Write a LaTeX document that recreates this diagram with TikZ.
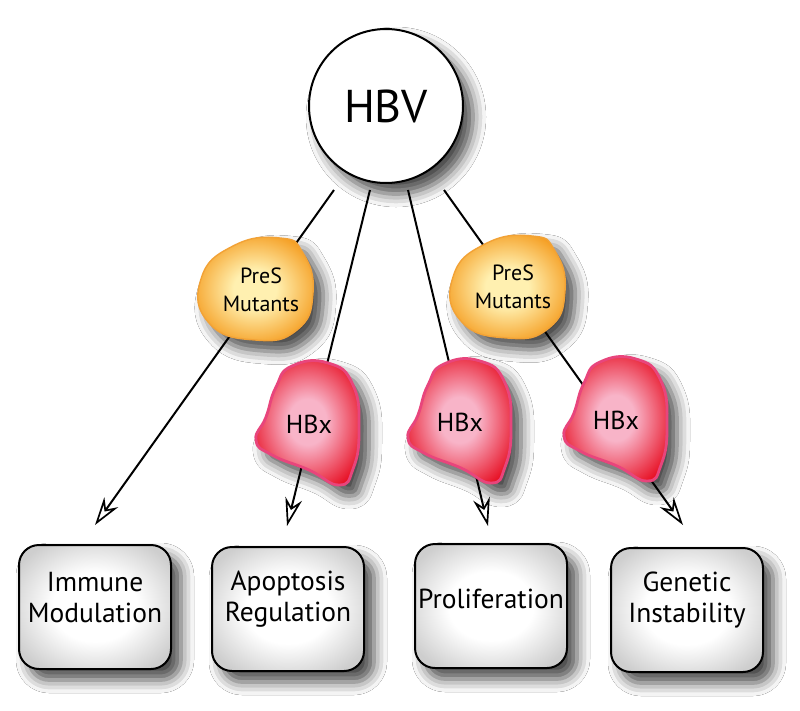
\documentclass[tikz,border=0pt]{standalone}
\usepackage{fontspec}
\setmainfont{PT Sans}
\usetikzlibrary{arrows.meta,shadows.blur}
\definecolor{presIn}{HTML}{FFF0B0}
\definecolor{presOut}{HTML}{F59E22}
\definecolor{presLine}{HTML}{F2A236}
\definecolor{hbxIn}{HTML}{F8B4C8}
\definecolor{hbxOut}{HTML}{E81428}
\definecolor{hbxLine}{HTML}{E8457C}
\pgfdeclareradialshading{boxshade}{\pgfpoint{0bp}{0bp}}{color(0bp)=(white); color(14bp)=(white); color(30bp)=(black!19); color(50bp)=(black!24)}
\pgfdeclareradialshading{presshade}{\pgfpoint{0bp}{0bp}}{color(0bp)=(presIn); color(9bp)=(presIn); color(28bp)=(presOut); color(50bp)=(presOut)}
\pgfdeclareradialshading{hbxshade}{\pgfpoint{0bp}{0bp}}{color(0bp)=(hbxIn); color(9bp)=(hbxIn); color(29bp)=(hbxOut); color(50bp)=(hbxOut)}
\begin{document}
\begin{tikzpicture}[x=1pt,y=-1pt,
  myshadow/.style={blur shadow={shadow xshift=10pt, shadow yshift=-11pt, shadow blur radius=13pt, shadow opacity=72}},
  conn/.style={line width=2pt, -{Stealth[open, length=28pt, width=17pt, inset=9pt, line width=1.7pt]}},
  boxstyle/.style={draw=black, line width=2pt, rounded corners=20pt, minimum width=152pt, minimum height=124pt, shading=boxshade, myshadow},
  boxtext/.style={font=\fontsize{27.5}{31}\selectfont, align=center},
  prestext/.style={font=\fontsize{22}{28}\selectfont, align=center},
  hbxtext/.style={font=\fontsize{26}{30}\selectfont},
  presstyle/.style={myshadow, draw=presLine, line width=1.4pt, shading=presshade},
  hbxstyle/.style={myshadow, draw=hbxLine, line width=2.8pt, shading=hbxshade}
]
\useasboundingbox[fill=white] (0,0) rectangle (800,710);

% HBV
\node[circle, draw, line width=2pt, fill=white, minimum size=154pt, myshadow, font=\fontsize{46}{50}\selectfont] (hbv) at (386,106) {HBV};

% connector end points
\coordinate (s1) at (334,190);
\coordinate (s2) at (370,190);
\coordinate (s3) at (408,190);
\coordinate (s4) at (444,190);
\coordinate (tip1) at (95,525);
\coordinate (tip2) at (287,526);
\coordinate (tip3) at (488,526);
\coordinate (tip4) at (683,525);

\draw[conn] (s1) -- (tip1);
\draw[conn] (s2) -- (tip2);
\draw[conn] (s3) -- (tip3);
\draw[conn] (s4) -- (tip4);

% PreS blobs
\path[presstyle, shift={(255,289)}] plot[smooth cycle, tension=0.85] coordinates {(25,-51) (-22,-43) (-54,-10) (-46,34) (0,51) (42,41) (58,4) (48,-36)};
\node[prestext] (pres1) at (261,290) {PreS\\Mutants};
\path[presstyle, shift={(507,287)}] plot[smooth cycle, tension=0.85] coordinates {(25,-51) (-22,-43) (-54,-10) (-46,34) (0,51) (42,41) (58,4) (48,-36)};
\node[prestext] (pres2) at (513,287) {PreS\\Mutants};

% HBx blobs
\path[hbxstyle, shift={(306,423)}] plot[smooth cycle, tension=0.85] coordinates {(-14,-57) (22,-60) (47,-38) (53,8) (47,46) (33,62) (3,47) (-34,32) (-50,17) (-40,-6) (-30,-36)};
\node[hbxtext] (hbx1) at (309,424) {HBx};
\path[hbxstyle, shift={(458,421)}] plot[smooth cycle, tension=0.85] coordinates {(-14,-57) (22,-60) (47,-38) (53,8) (47,46) (33,62) (3,47) (-34,32) (-50,17) (-40,-6) (-30,-36)};
\node[hbxtext] (hbx2) at (460,422) {HBx};
\path[hbxstyle, shift={(614,419)}] plot[smooth cycle, tension=0.85] coordinates {(-14,-57) (22,-60) (47,-38) (53,8) (47,46) (33,62) (3,47) (-34,32) (-50,17) (-40,-6) (-30,-36)};
\node[hbxtext] (hbx3) at (616,420) {HBx};

% outcome boxes
\node[boxstyle] (box1) at (95,607) {};
\node[boxtext] (t1) at (95,598) {Immune\\Modulation};
\node[boxstyle] (box2) at (288,609) {};
\node[boxtext] (t2) at (288,599) {Apoptosis\\Regulation};
\node[boxstyle] (box3) at (491,606) {};
\node[boxtext] (t3) at (491,599) {Proliferation};
\node[boxstyle] (box4) at (687,610) {};
\node[boxtext] (t4) at (687,600) {Genetic\\Instability};
\end{tikzpicture}
\end{document}
